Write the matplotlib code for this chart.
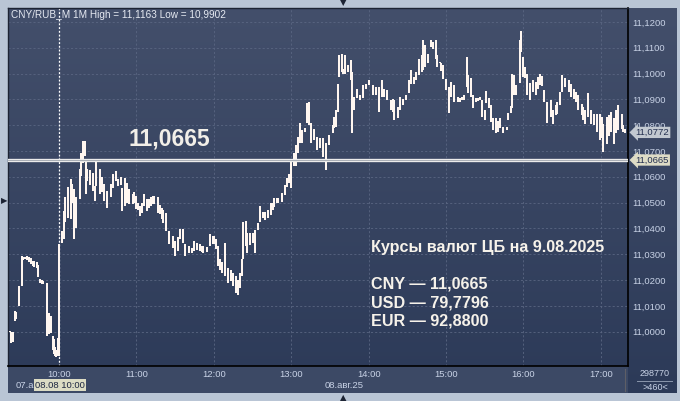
import numpy as np
import matplotlib
matplotlib.use('Agg')
import matplotlib.pyplot as plt
from matplotlib.colors import LinearSegmentedColormap
from matplotlib.lines import Line2D
from matplotlib.patches import Rectangle
import matplotlib.transforms as mtransforms

plt.rcParams['font.family'] = ['Liberation Sans', 'DejaVu Sans']

# --- data: 1-minute bars (high / low), previous evening session and 08.08 ---
times_prev = ['23:12', '23:13', '23:14', '23:16', '23:17', '23:19', '23:21', '23:22', '23:24',
              '23:25', '23:27', '23:28', '23:30', '23:31', '23:33', '23:34', '23:35', '23:37',
              '23:38', '23:41', '23:42', '23:44', '23:45', '23:46', '23:47', '23:48', '23:49']
hi_prev = [11.0004, 11.0000, 11.0000, 11.0080, 11.0075, 11.0177, 11.0293, 11.0290, 11.0290,
           11.0292, 11.0288, 11.0285, 11.0275, 11.0272, 11.0268, 11.0260, 11.0205, 11.0200,
           11.0195, 11.0190, 11.0074, 11.0060, 10.9984, 10.9970, 10.9939, 10.9930, 10.9977]
lo_prev = [11.0000, 10.9955, 10.9960, 11.0042, 11.0050, 11.0100, 11.0177, 11.0278, 11.0280,
           11.0278, 11.0270, 11.0262, 11.0255, 11.0250, 11.0248, 11.0210, 11.0190, 11.0186,
           11.0184, 10.9984, 10.9990, 10.9995, 10.9930, 10.9913, 10.9904, 10.9902, 10.9904]

times = ['10:00', '10:02', '10:04', '10:05', '10:07', '10:09', '10:10', '10:12', '10:13', '10:16',
         '10:17', '10:19', '10:20', '10:21', '10:22', '10:24', '10:26', '10:28', '10:29', '10:32',
         '10:33', '10:35', '10:37', '10:40', '10:42', '10:44', '10:46', '10:48', '10:49', '10:51',
         '10:53', '10:54', '10:57', '10:58', '11:00', '11:01', '11:03', '11:04', '11:06', '11:08',
         '11:10', '11:11', '11:13', '11:14', '11:17', '11:18', '11:20', '11:21', '11:23', '11:25',
         '11:28', '11:30', '11:32', '11:34', '11:36', '11:38', '11:41', '11:43', '11:45', '11:47',
         '11:49', '11:51', '11:52', '11:55', '11:57', '11:59', '12:00', '12:02', '12:03', '12:05',
         '12:06', '12:09', '12:11', '12:13', '12:15', '12:17', '12:19', '12:20', '12:22', '12:23',
         '12:25', '12:26', '12:28', '12:30', '12:32', '12:34', '12:36', '12:38', '12:40', '12:42',
         '12:44', '12:46', '12:47', '12:49', '12:50', '12:53', '12:55', '12:57', '12:58', '13:00',
         '13:02', '13:04', '13:05', '13:07', '13:08', '13:11', '13:12', '13:14', '13:15', '13:18',
         '13:20', '13:22', '13:25', '13:27', '13:29', '13:32', '13:33', '13:35', '13:36', '13:37',
         '13:39', '13:40', '13:42', '13:44', '13:46', '13:47', '13:49', '13:51', '13:53', '13:56',
         '13:58', '14:00', '14:03', '14:06', '14:08', '14:10', '14:12', '14:14', '14:17', '14:19',
         '14:20', '14:23', '14:24', '14:27', '14:29', '14:31', '14:33', '14:35', '14:37', '14:39',
         '14:41', '14:42', '14:44', '14:46', '14:48', '14:50', '14:52', '14:53', '14:55', '14:56',
         '14:58', '15:00', '15:02', '15:04', '15:06', '15:09', '15:11', '15:12', '15:14', '15:16',
         '15:17', '15:19', '15:21', '15:23', '15:25', '15:26', '15:28', '15:30', '15:31', '15:33',
         '15:35', '15:36', '15:39', '15:40', '15:42', '15:44', '15:47', '15:48', '15:50', '15:51',
         '15:53', '15:54', '15:57', '15:58', '16:00', '16:01', '16:03', '16:05', '16:07', '16:10',
         '16:11', '16:13', '16:14', '16:16', '16:18', '16:21', '16:23', '16:25', '16:26', '16:28',
         '16:30', '16:32', '16:35', '16:37', '16:39', '16:41', '16:42', '16:45', '16:46', '16:48',
         '16:50', '16:52', '16:55', '16:57', '16:59', '17:01', '17:02', '17:05', '17:06', '17:08',
         '17:10', '17:12', '17:13', '17:16', '17:17', '17:19']
highs = [11.0339, 11.0390, 11.0468, 11.0520, 11.0560, 11.0590, 11.0571, 11.0552, 11.0520, 11.0630,
         11.0694, 11.0739, 11.0739, 11.0668, 11.0630, 11.0625, 11.0616, 11.0565, 11.0670, 11.0630,
         11.0600, 11.0571, 11.0545, 11.0571, 11.0610, 11.0623, 11.0590, 11.0600, 11.0558, 11.0597,
         11.0575, 11.0552, 11.0532, 11.0540, 11.0526, 11.0500, 11.0487, 11.0500, 11.0532, 11.0513,
         11.0515, 11.0520, 11.0525, 11.0526, 11.0520, 11.0490, 11.0481, 11.0470, 11.0461, 11.0390,
         11.0371, 11.0352, 11.0365, 11.0397, 11.0397, 11.0339, 11.0332, 11.0325, 11.0352, 11.0345,
         11.0339, 11.0330, 11.0332, 11.0328, 11.0377, 11.0370, 11.0371, 11.0360, 11.0332, 11.0280,
         11.0268, 11.0345, 11.0247, 11.0240, 11.0228, 11.0216, 11.0200, 11.0228, 11.0280, 11.0423,
         11.0427, 11.0381, 11.0381, 11.0381, 11.0394, 11.0420, 11.0487, 11.0465, 11.0465, 11.0471,
         11.0497, 11.0500, 11.0516, 11.0516, 11.0516, 11.0536, 11.0568, 11.0594, 11.0610, 11.0658,
         11.0691, 11.0723, 11.0755, 11.0807, 11.0781, 11.0790, 11.0887, 11.0891, 11.0807, 11.0787,
         11.0755, 11.0752, 11.0749, 11.0730, 11.0762, 11.0800, 11.0830, 11.0858, 11.0960, 11.1071,
         11.1077, 11.1019, 11.1071, 11.1032, 11.1054, 11.1006, 11.0910, 11.0942, 11.0916, 11.0955,
         11.0961, 11.0974, 11.0955, 11.0948, 11.0948, 11.0974, 11.0942, 11.0936, 11.0897, 11.0903,
         11.0897, 11.0871, 11.0910, 11.0903, 11.0916, 11.0974, 11.1013, 11.0987, 11.1006, 11.1058,
         11.1071, 11.1129, 11.1110, 11.1077, 11.1129, 11.1122, 11.1129, 11.1071, 11.1045, 11.1040,
         11.1032, 11.0980, 11.0949, 11.0968, 11.0955, 11.0910, 11.0904, 11.0910, 11.0917, 11.1065,
         11.0994, 11.0981, 11.0917, 11.0904, 11.0905, 11.0910, 11.0897, 11.0859, 11.0933, 11.0904,
         11.0878, 11.0826, 11.0826, 11.0815, 11.0826, 11.0794, 11.0794, 11.0846, 11.0875, 11.1000,
         11.0994, 11.0955, 11.1129, 11.1163, 11.1065, 11.1026, 11.1000, 11.0962, 11.0975, 11.0968,
         11.0985, 11.1000, 11.0990, 11.0936, 11.0891, 11.0897, 11.0859, 11.0880, 11.0890, 11.0929,
         11.0994, 11.0981, 11.0974, 11.0961, 11.0942, 11.0930, 11.0916, 11.0884, 11.0870, 11.0858,
         11.0923, 11.0858, 11.0845, 11.0845, 11.0845, 11.0830, 11.0806, 11.0832, 11.0840, 11.0852,
         11.0826, 11.0860, 11.0877, 11.0845, 11.0800, 11.0787]
lows = [10.9904, 11.0345, 11.0358, 11.0423, 11.0440, 11.0435, 11.0500, 11.0358, 11.0403, 11.0513,
        11.0603, 11.0655, 11.0680, 11.0532, 11.0584, 11.0570, 11.0545, 11.0506, 11.0565, 11.0532,
        11.0540, 11.0506, 11.0480, 11.0520, 11.0558, 11.0584, 11.0565, 11.0570, 11.0468, 11.0487,
        11.0500, 11.0494, 11.0494, 11.0500, 11.0474, 11.0470, 11.0448, 11.0460, 11.0487, 11.0468,
        11.0480, 11.0487, 11.0495, 11.0494, 11.0461, 11.0455, 11.0435, 11.0420, 11.0390, 11.0339,
        11.0326, 11.0294, 11.0313, 11.0358, 11.0345, 11.0294, 11.0306, 11.0305, 11.0313, 11.0315,
        11.0313, 11.0308, 11.0306, 11.0310, 11.0332, 11.0340, 11.0339, 11.0320, 11.0255, 11.0240,
        11.0229, 11.0216, 11.0190, 11.0195, 11.0177, 11.0150, 11.0143, 11.0170, 11.0216, 11.0280,
        11.0330, 11.0305, 11.0336, 11.0342, 11.0305, 11.0394, 11.0423, 11.0440, 11.0433, 11.0440,
        11.0452, 11.0470, 11.0484, 11.0497, 11.0497, 11.0503, 11.0529, 11.0561, 11.0575, 11.0555,
        11.0640, 11.0640, 11.0691, 11.0730, 11.0730, 11.0775, 11.0807, 11.0800, 11.0730, 11.0742,
        11.0703, 11.0710, 11.0678, 11.0626, 11.0723, 11.0768, 11.0790, 11.0794, 11.0850, 11.0987,
        11.1006, 11.1000, 11.1000, 11.1006, 11.0974, 11.0768, 11.0858, 11.0904, 11.0897, 11.0904,
        11.0942, 11.0955, 11.0916, 11.0916, 11.0852, 11.0910, 11.0910, 11.0897, 11.0858, 11.0852,
        11.0820, 11.0826, 11.0858, 11.0878, 11.0897, 11.0923, 11.0961, 11.0961, 11.0974, 11.0994,
        11.1006, 11.1013, 11.1026, 11.1039, 11.1103, 11.1097, 11.1058, 11.1026, 11.1040, 11.1010,
        11.0980, 11.0936, 11.0846, 11.0910, 11.0891, 11.0891, 11.0891, 11.0897, 11.0897, 11.0949,
        11.0923, 11.0910, 11.0865, 11.0891, 11.0893, 11.0897, 11.0833, 11.0820, 11.0885, 11.0865,
        11.0814, 11.0781, 11.0768, 11.0775, 11.0788, 11.0768, 11.0781, 11.0820, 11.0846, 11.0865,
        11.0917, 11.0917, 11.0962, 11.1084, 11.0987, 11.0981, 11.0917, 11.0897, 11.0930, 11.0917,
        11.0940, 11.0955, 11.0950, 11.0891, 11.0807, 11.0833, 11.0806, 11.0840, 11.0845, 11.0877,
        11.0929, 11.0948, 11.0929, 11.0910, 11.0903, 11.0890, 11.0858, 11.0839, 11.0820, 11.0806,
        11.0832, 11.0806, 11.0800, 11.0775, 11.0742, 11.0750, 11.0697, 11.0729, 11.0760, 11.0775,
        11.0729, 11.0770, 11.0781, 11.0787, 11.0772, 11.0768]

cb_rate = 11.0665
last_price = 11.0772
y_ticks = [11.00, 11.01, 11.02, 11.03, 11.04, 11.05, 11.06, 11.07, 11.08, 11.09, 11.10, 11.11, 11.12]
x_labels = ['10:00', '11:00', '12:00', '13:00', '14:00', '15:00', '16:00', '17:00']
rates_title = 'Курсы валют ЦБ на 9.08.2025'
rates_lines = ['CNY — 11,0665', 'USD — 79,7796', 'EUR — 92,8800']


def minutes(s):
    h, m = s.split(':')
    return int(h) * 60 + int(m)


# evening session 07.08 is glued before 10:00 of 08.08 (23:50 -> 10:00)
t_prev = [minutes(s) - 830 for s in times_prev]
t_today = [minutes(s) for s in times]


def fx(px):
    return px / 680


def fy(py):
    return 1 - py / 401


fig = plt.figure(figsize=(6.8, 4.01), dpi=100, facecolor='#b9c5d5')

# background panel with vertical gradient
bg = fig.add_axes([fx(8), fy(393), (677 - 8) / 680, (393 - 8) / 401], zorder=0)
cmap = LinearSegmentedColormap.from_list('bg', ['#434f6b', '#2c3a58'])
bg.imshow(np.linspace(0, 1, 256).reshape(-1, 1), cmap=cmap, aspect='auto', extent=[0, 1, 0, 1])
bg.set_axis_off()

# time axis strip
fig.add_artist(Rectangle((fx(8), fy(393)), (628 - 8) / 680, (393 - 366) / 401,
                         transform=fig.transFigure, facecolor='#3c4965', edgecolor='none', zorder=1))

ax = fig.add_axes([fx(8), fy(366), 620 / 680, 358 / 401], zorder=2)
ax.set_facecolor('none')

ax.vlines(t_prev, lo_prev, hi_prev, color='#fff6f0', lw=1.3, antialiased=False, zorder=3)
ax.vlines(t_today, lows, highs, color='#fff6f0', lw=1.3, antialiased=False, zorder=3)

# CB rate line
ax.axhline(cb_rate, color='#ebebeb', lw=2.4, zorder=4)
ax.axhline(cb_rate, color='#9ea4ae', lw=0.6, zorder=4)

# day separator
ax.axvline(600, color='white', lw=0.9, ls=(0, (1.5, 1.5)), zorder=2)

ax.set_xlim(560.5, 1041)
ax.set_ylim(10.9867, 11.1254)

ax.set_xticks([600 + 60 * i for i in range(len(x_labels))])
ax.set_xticklabels(x_labels)
ax.set_yticks(y_ticks)
ax.set_yticklabels([('%.4f' % v).replace('.', ',') for v in y_ticks])
ax.yaxis.tick_right()
ax.tick_params(axis='both', length=0, labelsize=6.8, labelcolor='#c8d2e6')
ax.tick_params(axis='x', pad=3)
ax.tick_params(axis='y', pad=3)
ax.grid(True, color='#5a6682', lw=0.6, ls=(0, (2.5, 2.5)))

for side in ['right', 'bottom']:
    ax.spines[side].set_color('black')
    ax.spines[side].set_linewidth(1.2)
for side in ['top', 'left']:
    ax.spines[side].set_color('#1c2333')
    ax.spines[side].set_linewidth(1.0)

# price markers on the right axis
trans = mtransforms.blended_transform_factory(ax.transAxes, ax.transData)
ax.text(1.012, last_price, ('%.4f' % last_price).replace('.', ','), transform=trans,
        fontsize=6.8, color='#243050', va='center', ha='left', clip_on=False, zorder=6,
        bbox=dict(boxstyle='larrow,pad=0.12', fc='#c2c8d0', ec='none'))
ax.text(1.012, cb_rate, ('%.4f' % cb_rate).replace('.', ','), transform=trans,
        fontsize=6.8, color='#243050', va='center', ha='left', clip_on=False, zorder=6,
        bbox=dict(boxstyle='larrow,pad=0.12', fc='#dedcc6', ec='none'))

# texts
fig.text(fx(11), fy(15), 'CNY/RUB_M 1M High = 11,1163 Low = 10,9902', fontsize=7.2,
         color='#e6eaf2', va='center', zorder=5)
fig.text(fx(129), fy(139), ('%.4f' % cb_rate).replace('.', ','), fontsize=16.5, fontweight='bold',
         color='#f2efe8', va='center', zorder=5)
fig.text(fx(371), fy(247), rates_title, fontsize=11.6, fontweight='bold', color='#f6f2ea',
         va='center', zorder=5)
for i, line in enumerate(rates_lines):
    fig.text(fx(371), fy(284 + 18.7 * i), line, fontsize=11.6, fontweight='bold',
             color='#f6f2ea', va='center', zorder=5)

# bottom strip
fig.text(fx(16), fy(385), '07.авг.25', fontsize=6.8, color='#c8d2e6', va='center', zorder=5)
fig.text(fx(35), fy(385), '08.08 10:00', fontsize=6.8, color='#1c2540', va='center', zorder=6,
         bbox=dict(boxstyle='square,pad=0.15', fc='#dcdcc4', ec='none'))
fig.text(fx(325), fy(386), '08.авг.25', fontsize=6.8, color='#c8d2e6', va='center', zorder=5)
fig.add_artist(Line2D([fx(625), fx(625)], [fy(369), fy(391)], color='#5e5e66', lw=0.8, zorder=5))
fig.text(fx(655), fy(373), '298770', fontsize=6.5, color='#c8d2e6', va='center', ha='center', zorder=5)
fig.add_artist(Line2D([fx(637), fx(672)], [fy(381), fy(381)], color='#8a96ac', lw=0.7, zorder=5))
fig.text(fx(655), fy(387), '>460<', fontsize=6.5, color='#c8d2e6', va='center', ha='center', zorder=5)

# frame arrows
fig.text(fx(343), fy(3), '▼', fontsize=6, color='#1c2333', ha='center', va='center',
         family='DejaVu Sans')
fig.text(fx(343), fy(398), '▲', fontsize=6, color='#1c2333', ha='center', va='center',
         family='DejaVu Sans')
fig.text(fx(4), fy(201), '▶', fontsize=6, color='#1c2333', ha='center', va='center',
         family='DejaVu Sans')

fig.savefig('out.png', dpi=100, facecolor=fig.get_facecolor())
